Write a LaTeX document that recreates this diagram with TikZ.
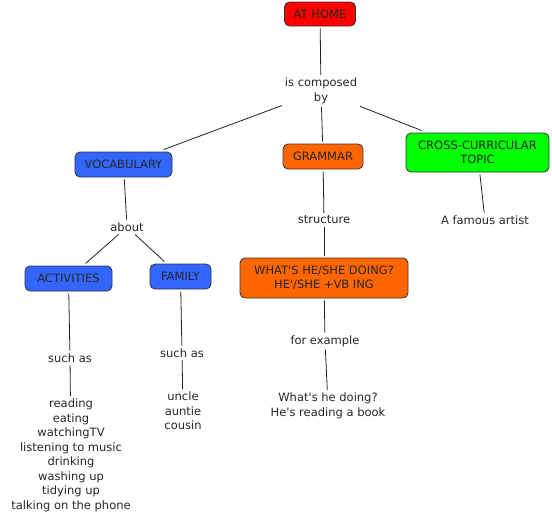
\documentclass[tikz,border=0pt]{standalone}
\usepackage{fontspec}
\setmainfont{DejaVu Sans}
\definecolor{cred}{HTML}{FF0000}
\definecolor{corange}{HTML}{FF6600}
\definecolor{cgreen}{HTML}{00FF00}
\definecolor{cblue}{HTML}{3366FF}
\definecolor{lnk}{HTML}{222222}
\newcommand{\ap}{\textquotesingle}
\begin{document}
\begin{tikzpicture}[x=1pt,y=-1pt,
  every node/.style={font=\fontsize{11.5}{14.5}\selectfont, align=center, text=black!85},
  concept/.style={draw=black!80, line width=0.8pt, rounded corners=5pt, inner sep=0pt, outer sep=2.5pt},
  lbl/.style={inner sep=1.5pt, outer sep=1.5pt},
  link/.style={draw=lnk, line width=0.8pt}]
\useasboundingbox (0,0) rectangle (552,522);
% concepts
\node[concept, fill=cred, minimum width=71pt, minimum height=24pt] (home) at (320,14) {AT HOME};
\node[concept, fill=cblue, minimum width=97pt, minimum height=25pt] (voc) at (123.5,164.5) {VOCABULARY};
\node[concept, fill=corange, minimum width=80pt, minimum height=25pt] (gram) at (323,156.5) {GRAMMAR};
\node[concept, fill=cgreen, minimum width=143pt, minimum height=39pt] (cross) at (477.5,152.5) {CROSS-CURRICULAR\\TOPIC};
\node[concept, fill=cblue, minimum width=87pt, minimum height=25pt] (act) at (68.5,278.5) {ACTIVITIES};
\node[concept, fill=cblue, minimum width=61pt, minimum height=25pt] (fam) at (180.5,276.5) {FAMILY};
\node[concept, fill=corange, minimum width=168pt, minimum height=40pt] (what) at (324,278) {WHAT\ap S HE/SHE DOING?\\HE\ap/SHE +VB ING};
% labels
\node[lbl] (comp) at (321,91) {is composed\\by};
\node[lbl] (about) at (127,227) {about};
\node[lbl] (such1) at (70,358) {such as};
\node[lbl] (such2) at (182,353) {such as};
\node[lbl] (struct) at (324,220) {structure};
\node[lbl] (forex) at (325,341) {for example};
\node[lbl] (artist) at (485,220) {A famous artist};
% leaves
\node[lbl, anchor=north] (acts) at (71,396) {reading\\eating\\watchingTV\\listening to music\\drinking\\washing up\\tidying up\\talking on the phone};
\node[lbl, anchor=north] (rel) at (183,389) {uncle\\auntie\\cousin};
\node[lbl, anchor=north] (ex) at (328,390) {What\ap s he doing?\\He\ap s reading a book};
% links
\draw[link] (home) -- (comp);
\draw[link] (comp) -- (voc);
\draw[link] (comp) -- (gram);
\draw[link] (comp) -- (cross);
\draw[link] (voc) -- (about);
\draw[link] (about) -- (act);
\draw[link] (about) -- (fam);
\draw[link] (act) -- (such1);
\draw[link] (such1) -- (acts);
\draw[link] (fam) -- (such2);
\draw[link] (such2) -- (rel);
\draw[link] (gram) -- (struct);
\draw[link] (struct) -- (what);
\draw[link] (what) -- (forex);
\draw[link] (forex) -- (ex);
\draw[link] (cross) -- (artist);
\end{tikzpicture}
\end{document}
